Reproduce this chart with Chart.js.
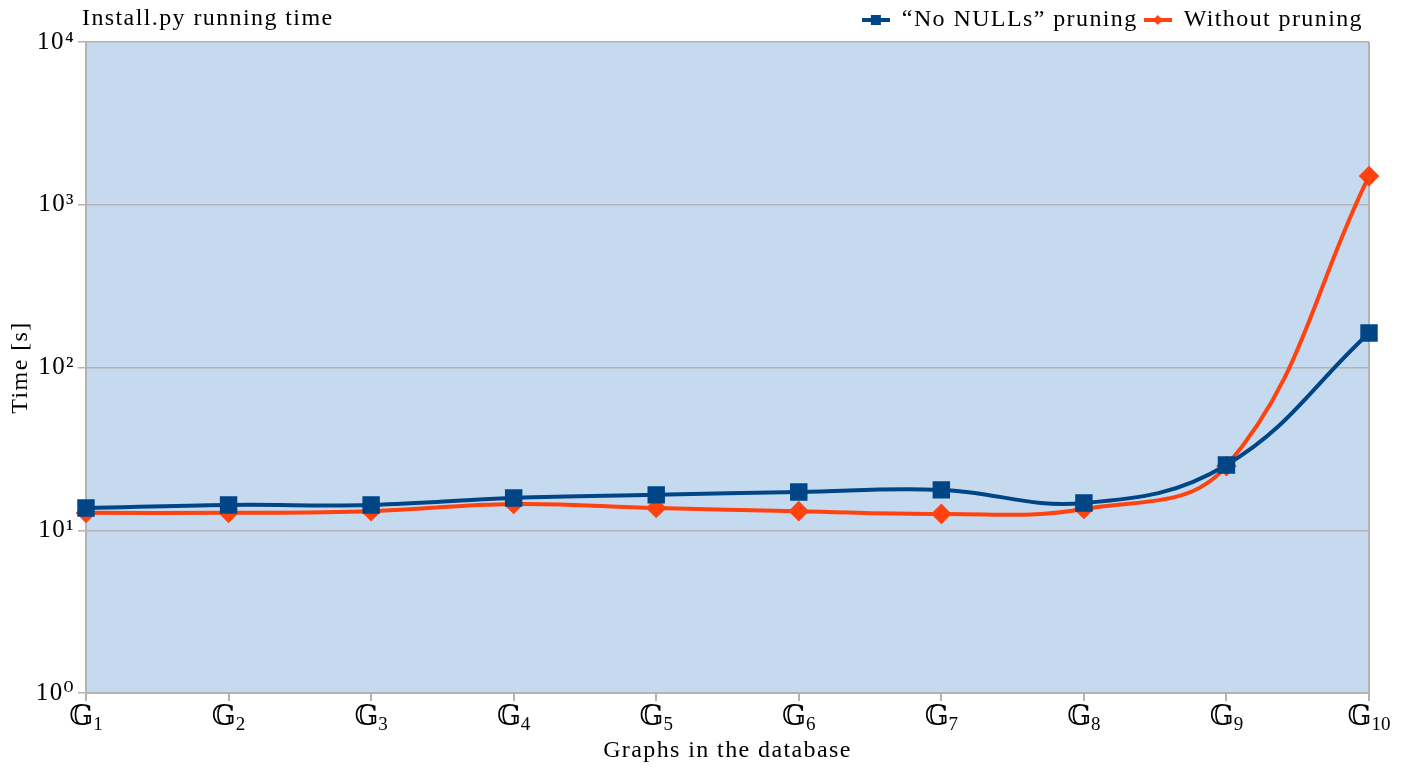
<!DOCTYPE html>
<html><head><meta charset="utf-8">
<script src="https://cdn.jsdelivr.net/npm/chart.js@4.4.1/dist/chart.umd.min.js"></script>
<style>html,body{margin:0;padding:0;background:#fff}</style>
</head><body>
<canvas id="c" width="1406" height="769"></canvas>
<script>
const categories = ['𝔾₁','𝔾₂','𝔾₃','𝔾₄','𝔾₅','𝔾₆','𝔾₇','𝔾₈','𝔾₉','𝔾₁₀'];
const categoryBase = '𝔾';
const categorySubscripts = ['1','2','3','4','5','6','7','8','9','10'];
const noNullsPruning = [13.7, 14.3, 14.3, 15.8, 16.5, 17.2, 17.7, 14.7, 25.2, 163];
const withoutPruning = [12.8, 12.8, 13.1, 14.5, 13.7, 13.1, 12.6, 13.5, 24.8, 1500];
const yTickValues = [1, 10, 100, 1000, 10000];
const yTickLabels = ['10⁰', '10¹', '10²', '10³', '10⁴'];
const seriesNames = ['\u201CNo NULLs\u201D pruning', 'Without pruning'];
const chartTitle = 'Install.py running time';

const FONT = "'Liberation Serif', 'DejaVu Serif', serif";
const BLUE = '#004586', RED = '#ff420e', BG = '#c6daef', GRID = '#b3b3b3';
const SPACING = '1.4px';
Chart.defaults.font.family = FONT;
Chart.defaults.font.size = 24;
Chart.defaults.color = '#000';

function legendIcon(color, style) {
  const c = document.createElement('canvas');
  c.width = 28; c.height = 14;
  const g = c.getContext('2d');
  g.strokeStyle = color; g.lineWidth = 4;
  g.beginPath(); g.moveTo(0, 7); g.lineTo(28, 7); g.stroke();
  g.fillStyle = color;
  if (style === 'rect') { g.fillRect(9, 2, 10, 10); }
  else { g.beginPath(); g.moveTo(14, 2); g.lineTo(19, 7); g.lineTo(14, 12); g.lineTo(9, 7); g.closePath(); g.fill(); }
  return c;
}
const icons = [legendIcon(BLUE, 'rect'), legendIcon(RED, 'diamond')];

const spacingPlugin = {
  id: 'spacing',
  beforeUpdate(chart) { chart.ctx.letterSpacing = SPACING; },
  beforeLayout(chart) { chart.ctx.letterSpacing = SPACING; },
  beforeDraw(chart) { chart.ctx.letterSpacing = SPACING; }
};

const bgPlugin = {
  id: 'bg',
  beforeDraw(chart) {
    const {ctx, chartArea: a} = chart;
    ctx.save(); ctx.fillStyle = BG;
    ctx.fillRect(a.left, a.top, a.right - a.left, a.bottom - a.top);
    ctx.restore();
  },
  afterDraw(chart) {
    const {ctx} = chart;
    ctx.save();
    ctx.letterSpacing = SPACING;
    ctx.font = '24px ' + FONT; ctx.fillStyle = '#000';
    ctx.textBaseline = 'alphabetic'; ctx.textAlign = 'left';
    ctx.fillText(chartTitle, 82, 25);
    // x category labels: double-struck G with subscript index
    const xs = chart.scales.x;
    ctx.letterSpacing = '0px';
    categorySubscripts.forEach((sub, i) => {
      const x = xs.getPixelForValue(i);
      ctx.font = '28px ' + FONT;
      const wb = ctx.measureText(categoryBase).width;
      ctx.font = '19px ' + FONT;
      const ws = ctx.measureText(sub).width;
      const left = x - (wb + ws) / 2;
      ctx.font = '28px ' + FONT;
      ctx.textAlign = 'left';
      ctx.fillText(categoryBase, left, xs.top + 32);
      ctx.font = '19px ' + FONT;
      ctx.fillText(sub, left + wb, xs.top + 37);
    });
    ctx.restore();
  }
};

new Chart(document.getElementById('c'), {
  type: 'line',
  data: {
    labels: categories,
    datasets: [
      { label: seriesNames[0], data: noNullsPruning, borderColor: BLUE, backgroundColor: BLUE,
        borderWidth: 4, pointStyle: 'rect', pointRadius: 9.5, pointHoverRadius: 9.5,
        tension: 0.4, cubicInterpolationMode: 'default' },
      { label: seriesNames[1], data: withoutPruning, borderColor: RED, backgroundColor: RED,
        borderWidth: 4, pointStyle: 'rectRot', pointRadius: 7.5, pointHoverRadius: 7.5,
        tension: 0.4, cubicInterpolationMode: 'default' }
    ]
  },
  options: {
    responsive: false, animation: false,
    layout: { padding: { top: 2, right: 37, left: 0, bottom: 0 } },
    plugins: {
      tooltip: { enabled: false },
      legend: {
        position: 'top', align: 'end',
        labels: {
          usePointStyle: true, pointStyleWidth: 28, padding: 6,
          font: { size: 24 },
          generateLabels(chart) {
            const items = Chart.defaults.plugins.legend.labels.generateLabels(chart);
            items.forEach((it, i) => { it.pointStyle = icons[i]; });
            return items;
          }
        }
      }
    },
    scales: {
      x: {
        offset: false,
        grid: {
          drawOnChartArea: true, drawTicks: true, tickLength: 8, tickColor: GRID,
          color: ctx => (ctx.index === categories.length - 1 ? GRID : 'rgba(0,0,0,0)'),
          lineWidth: 2
        },
        border: { color: GRID, width: 2 },
        ticks: { maxRotation: 0, autoSkip: false, padding: 2, color: 'rgba(0,0,0,0)' },
        title: { display: true, text: 'Graphs in the database', padding: { top: 0, bottom: 4 }, font: { size: 24 } },
        afterFit(s) { s.height = 76; }
      },
      y: {
        type: 'logarithmic', min: 1, max: 10000,
        afterBuildTicks(s) { s.ticks = yTickValues.map(v => ({ value: v })); },
        grid: { color: GRID, lineWidth: 1.5, tickLength: 8, tickColor: GRID },
        border: { color: GRID, width: 2 },
        ticks: {
          padding: 3, font: { size: 25 },
          callback: (v) => { const i = yTickValues.indexOf(v); return i >= 0 ? yTickLabels[i] : ''; }
        },
        title: { display: true, text: 'Time [s]', padding: { top: 6, bottom: 0 }, font: { size: 24 } },
        afterFit(s) { s.width = 86; }
      }
    }
  },
  plugins: [spacingPlugin, bgPlugin]
});
</script>
</body></html>
